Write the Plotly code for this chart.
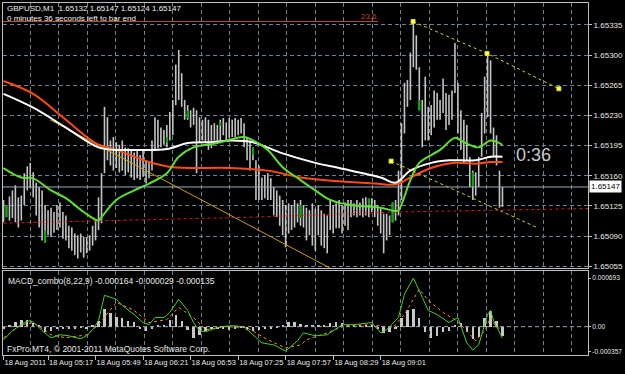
import plotly.graph_objects as go
from datetime import datetime, timedelta

# ---------------- data ----------------
# each drawn bar = 2 minutes of GBPUSD, first bar 18 Aug 2011 04:47
highs = [1.65132,1.65126,1.65136,1.65143,1.65149,1.65135,1.65137,1.65163,1.65171,1.65175,
         1.65164,1.65152,1.65147,1.65143,1.65126,1.65120,1.65123,1.65118,1.65126,1.65129,
         1.65118,1.65114,1.65102,1.65100,1.65093,1.65091,1.65093,1.65089,1.65089,1.65091,
         1.65102,1.65108,1.65135,1.65163,1.65240,1.65228,1.65201,1.65205,1.65199,1.65196,
         1.65201,1.65193,1.65192,1.65190,1.65187,1.65190,1.65184,1.65190,1.65178,1.65176,
         1.65201,1.65228,1.65225,1.65216,1.65213,1.65219,1.65234,1.65248,1.65289,1.65306,
         1.65279,1.65248,1.65242,1.65236,1.65239,1.65236,1.65228,1.65225,1.65228,1.65225,
         1.65219,1.65221,1.65219,1.65225,1.65227,1.65222,1.65227,1.65225,1.65227,1.65225,
         1.65227,1.65221,1.65205,1.65201,1.65193,1.65178,1.65172,1.65158,1.65161,1.65163,
         1.65157,1.65147,1.65143,1.65137,1.65132,1.65126,1.65128,1.65126,1.65132,1.65128,
         1.65132,1.65126,1.65123,1.65120,1.65128,1.65122,1.65126,1.65120,1.65116,1.65114,
         1.65132,1.65126,1.65128,1.65132,1.65126,1.65129,1.65132,1.65132,1.65128,1.65132,
         1.65129,1.65134,1.65135,1.65132,1.65134,1.65132,1.65126,1.65123,1.65116,1.65116,
         1.65114,1.65129,1.65132,1.65166,1.65221,1.65268,1.65271,1.65303,1.65339,1.65323,
         1.65286,1.65248,1.65275,1.65240,1.65242,1.65259,1.65256,1.65248,1.65273,1.65256,
         1.65254,1.65259,1.65314,1.65268,1.65236,1.65225,1.65219,1.65182,1.65166,1.65164,
         1.65182,1.65233,1.65275,1.65303,1.65294,1.65216,1.65207,1.65166,1.65147]
lows = [1.65106,1.65112,1.65108,1.65111,1.65106,1.65100,1.65108,1.65126,1.65143,1.65146,
        1.65135,1.65114,1.65100,1.65085,1.65082,1.65091,1.65089,1.65094,1.65097,1.65100,
        1.65087,1.65085,1.65076,1.65073,1.65068,1.65064,1.65071,1.65065,1.65070,1.65073,
        1.65079,1.65085,1.65097,1.65105,1.65163,1.65178,1.65172,1.65166,1.65169,1.65164,
        1.65166,1.65161,1.65164,1.65158,1.65155,1.65157,1.65155,1.65159,1.65151,1.65157,
        1.65166,1.65190,1.65192,1.65193,1.65196,1.65193,1.65201,1.65207,1.65242,1.65248,
        1.65240,1.65225,1.65225,1.65216,1.65219,1.65163,1.65198,1.65201,1.65198,1.65190,
        1.65192,1.65201,1.65201,1.65201,1.65207,1.65201,1.65204,1.65205,1.65205,1.65207,
        1.65209,1.65193,1.65178,1.65166,1.65178,1.65132,1.65132,1.65132,1.65134,1.65132,
        1.65132,1.65114,1.65112,1.65102,1.65091,1.65077,1.65093,1.65097,1.65100,1.65106,
        1.65102,1.65100,1.65085,1.65091,1.65079,1.65073,1.65091,1.65079,1.65076,1.65070,
        1.65097,1.65093,1.65099,1.65099,1.65093,1.65102,1.65097,1.65112,1.65114,1.65112,
        1.65114,1.65112,1.65114,1.65112,1.65118,1.65112,1.65102,1.65093,1.65070,1.65085,
        1.65091,1.65106,1.65108,1.65114,1.65132,1.65209,1.65240,1.65248,1.65286,1.65283,
        1.65236,1.65193,1.65201,1.65201,1.65207,1.65216,1.65225,1.65225,1.65233,1.65213,
        1.65219,1.65225,1.65256,1.65209,1.65190,1.65175,1.65178,1.65147,1.65132,1.65137,
        1.65147,1.65182,1.65209,1.65228,1.65209,1.65182,1.65172,1.65123,1.65124]

# green candle bodies: bar index, body top, body bottom
green_idx = [1, 14, 55, 62, 73, 84, 100, 123, 131, 140, 158]
green_top = [1.65126,1.65097,1.65205,1.65236,1.65222,1.65193,1.65126,1.65134,1.65129,1.65248,1.65164]
green_bot = [1.65112,1.65082,1.65198,1.65227,1.65218,1.65184,1.65111,1.65126,1.65106,1.65236,1.65147]

# moving averages (bar index, price)
white_idx = [0,10,21,32,38,44,55,62,70,77,84,94,105,113,127,132,137,144,150,159,164,168]
white_ma = [1.65255,1.65239,1.65216,1.65193,1.65190,1.65190,1.65191,1.65198,1.65199,1.65201,1.65199,
            1.65186,1.65175,1.65169,1.65158,1.65152,1.65166,1.65175,1.65178,1.65178,1.65182,1.65182]
red_idx = [0,10,21,31,38,49,57,77,89,100,105,125,132,137,144,152,159,164,168]
red_ma = [1.65270,1.65255,1.65225,1.65198,1.65190,1.65176,1.65170,1.65169,1.65166,1.65158,1.65156,
          1.65151,1.65150,1.65158,1.65169,1.65175,1.65174,1.65176,1.65176]
green_ma_idx = [0,6,10,16,21,27,32,33,38,44,49,55,59,64,72,81,84,89,94,100,105,110,117,127,132,133,
                137,140,147,152,155,160,164,168]
green_ma = [1.65169,1.65158,1.65157,1.65143,1.65134,1.65118,1.65108,1.65112,1.65132,1.65143,
            1.65151,1.65163,1.65182,1.65193,1.65198,1.65205,1.65201,1.65190,1.65170,1.65155,
            1.65143,1.65132,1.65126,1.65123,1.65119,1.65120,1.65155,1.65175,1.65190,1.65204,
            1.65199,1.65193,1.65201,1.65196]
# slow red dotted average
red_dot_idx = [0, 84, 133, 196.8]
red_dot = [1.65105, 1.65112, 1.65118, 1.65122]

# drawn objects
gold_line_idx = [15.66, 109.9]
gold_line = [1.65225, 1.65053]
upper_chan_idx = [137.9, 162.8, 187.0]
upper_chan = [1.65339, 1.65302, 1.65261]
lower_chan_idx = [130.5, 179.6]
lower_chan = [1.65177, 1.65100]
fib_idx = [-0.17, 126.1]
fib_level = 1.65339
current_price = 1.65147

# MACD panel
macd_idx = [0,3,7,9,11,13,16,19,22,26,28,30,32,34,38,40,44,47,49,51,54,56,59,62,64,66,68,73,77,81,
            84,87,91,95,99,101,105,109,114,118,124,127,129,133,135,138,141,143,146,150,153,154,156,
            158,160,163,164,165,168]
macd = [-0.000188,-0.000058,0.000058,0.000087,0.000029,-0.000058,-0.000159,-0.000116,-0.00013,-0.000173,
        -0.00013,-0.000043,0.000087,0.000448,0.00039,0.000303,0.000173,0.000058,0.000029,0.00013,
        0.00013,0.000202,0.00039,0.000231,0.000058,-0.000058,-0.000072,0.0,0.000014,0.0,
        -0.000116,-0.000231,-0.00026,-0.000347,-0.000202,-0.000087,-0.00013,-0.000116,0.000029,0.000029,
        0.000058,-0.000087,-0.000043,0.00013,0.000462,0.000693,0.000419,0.000231,0.000173,0.000058,
        0.00013,0.000014,-0.000231,-0.000332,-0.00026,0.000173,0.000231,0.000087,-0.000164]
sig_idx = [0,6,10,16,21,28,32,38,44,49,55,59,64,68,75,82,89,95,100,102,109,115,124,131,135,140,143,
           148,152,155,159,162,164,166,168]
signal = [-0.000159,0.000029,0.000058,-0.000116,-0.000159,-0.000116,0.000029,0.000347,0.000231,0.000058,
          0.000101,0.000274,0.00013,-0.000043,0.0,-0.000014,-0.000188,-0.000303,-0.00026,-0.000188,
          -0.000087,0.000014,0.000029,-0.000014,0.000173,0.000534,0.000375,0.000202,0.000101,-0.000014,
          -0.000202,-0.000058,0.00013,-0.000014,-0.000029]
hist = [-0.00004,0.00003,0.00007,0.0001,0.00009,0.00005,0.00002,-0.00007,-0.00006,-0.00004,
        -0.00003,-0.00004,-0.00003,-0.00002,-0.00003,0.00003,0.00008,0.00025,0.0002,0.00014,
        0.00012,0.00008,0.00006,-0.00003,-0.00006,-0.00004,0.00002,0.00003,0.0001,0.00016,
        0.00008,-0.00005,-0.00016,-0.00012,-0.00006,-0.00003,-0.00004,-0.00003,-0.00005,-0.00003,
        -0.00002,-0.00005,-0.00006,-0.00005,-0.00004,-0.00003,-0.00002,0.00003,0.00006,0.00006,
        0.00004,0.00002,0.00002,0.00003,0.00002,0.00005,0.00007,0.00005,0.00003,0.00003,
        0.00002,0.00002,0.00001,-0.00003,-0.00009,-0.00008,-0.00003,0.00013,0.00024,0.00025,
        0.00012,-0.00008,-0.00016,-0.00014,-0.00008,-0.00006,0.00003,0.00005,-0.00008,-0.00018,
        -0.00015,0.00012,0.00023,0.00008,-0.000135]

price_ticks = [1.65335, 1.65300, 1.65265, 1.65230, 1.65195, 1.65160, 1.65125, 1.65090, 1.65055]
macd_ticks = [0.000693, 0.0, -0.000357]
macd_tick_text = ["0.000693", "0.00", "-0.000357"]
time_label_idx = [0, 15, 31, 47, 63, 79, 95, 111, 127]
time_labels = ["18 Aug 2011", "18 Aug 05:17", "18 Aug 05:49", "18 Aug 06:21", "18 Aug 06:53",
               "18 Aug 07:25", "18 Aug 07:57", "18 Aug 08:29", "18 Aug 09:01"]

# ---------------- helpers ----------------
BASE = datetime(2011, 8, 18, 4, 47)
def T(i):
    return BASE + timedelta(minutes=2 * i)

W, H = 625, 374
def px(x):
    return x / W
def py(y):
    return 1 - y / H

FONT = "Liberation Sans, Arial, sans-serif"
GRID = "#6e8194"

fig = go.Figure()

# price bars
bx, by = [], []
for i, (h, l) in enumerate(zip(highs, lows)):
    bx += [T(i), T(i), None]
    by += [l, h, None]
fig.add_trace(go.Scatter(x=bx, y=by, mode="lines", line=dict(color="#c4c4c4", width=1.6),
                         hoverinfo="skip", xaxis="x", yaxis="y"))
gx, gy = [], []
for i, tp, bt in zip(green_idx, green_top, green_bot):
    gx += [T(i), T(i), None]
    gy += [bt, tp, None]
fig.add_trace(go.Scatter(x=gx, y=gy, mode="lines", line=dict(color="#00b000", width=2),
                         hoverinfo="skip", xaxis="x", yaxis="y"))

# drawn lines
fig.add_trace(go.Scatter(x=[T(i) for i in gold_line_idx], y=gold_line, mode="lines",
                         line=dict(color="#c8a000", width=1), xaxis="x", yaxis="y"))
fig.add_trace(go.Scatter(x=[T(i) for i in red_dot_idx], y=red_dot, mode="lines",
                         line=dict(color="#e01818", width=1, dash="3px,3px"), xaxis="x", yaxis="y"))
fig.add_trace(go.Scatter(x=[T(i) for i in fib_idx], y=[fib_level, fib_level], mode="lines",
                         line=dict(color="#b4501e", width=1), xaxis="x", yaxis="y"))

# moving averages
fig.add_trace(go.Scatter(x=[T(i) for i in red_idx], y=red_ma, mode="lines", line_shape="spline",
                         line=dict(color="#ff4a10", width=2), xaxis="x", yaxis="y"))
fig.add_trace(go.Scatter(x=[T(i) for i in white_idx], y=white_ma, mode="lines", line_shape="spline",
                         line=dict(color="#ffffff", width=2), xaxis="x", yaxis="y"))
fig.add_trace(go.Scatter(x=[T(i) for i in green_ma_idx], y=green_ma, mode="lines", line_shape="spline",
                         line=dict(color="#5ede30", width=2), xaxis="x", yaxis="y"))

# channel lines
fig.add_trace(go.Scatter(x=[T(i) for i in upper_chan_idx], y=upper_chan, mode="lines",
                         line=dict(color="#d8d800", width=1, dash="3px,3px"), xaxis="x", yaxis="y"))
fig.add_trace(go.Scatter(x=[T(i) for i in lower_chan_idx], y=lower_chan, mode="lines",
                         line=dict(color="#d8d800", width=1, dash="3px,3px"), xaxis="x", yaxis="y"))
fig.add_trace(go.Scatter(x=[T(i) for i in upper_chan_idx] + [T(lower_chan_idx[0])],
                         y=upper_chan + [lower_chan[0]], mode="markers",
                         marker=dict(symbol="square", size=4, color="#ffff80",
                                     line=dict(color="#e0e000", width=1)), xaxis="x", yaxis="y"))

# MACD panel
fig.add_trace(go.Bar(x=[T(i) for i in range(0, 2 * len(hist), 2)], y=hist,
                     width=95000, marker=dict(color="#c8c8c8", line=dict(width=0)),
                     xaxis="x2", yaxis="y2"))
fig.add_trace(go.Scatter(x=[T(i) for i in sig_idx], y=signal, mode="lines",
                         line=dict(color="#ff8c1a", width=1, dash="3px,3px"), xaxis="x2", yaxis="y2"))
fig.add_trace(go.Scatter(x=[T(i) for i in macd_idx], y=macd, mode="lines",
                         line=dict(color="#44d020", width=1), xaxis="x2", yaxis="y2"))

grid_times = [T(8.92 + 9.596 * k) for k in range(20)]
xrange_ = [T(-0.17), T(196.8)]
xdom = [px(3), px(588)]

common_x = dict(domain=xdom, range=xrange_, type="date", showgrid=False, zeroline=False,
                showline=True, mirror=True, linecolor="#c0c0c0", linewidth=1, automargin=False,
                minor=dict(tickmode="array", tickvals=grid_times, showgrid=True,
                           gridcolor=GRID, griddash="4px,3px", gridwidth=1, ticks=""))

fig.update_layout(
    width=W, height=H, margin=dict(l=0, r=0, t=0, b=0, autoexpand=False),
    paper_bgcolor="#000000", plot_bgcolor="#000000", showlegend=False,
    font=dict(family=FONT, size=8, color="#e0e0e0"),
    bargap=0,
    xaxis=dict(common_x, anchor="y", showticklabels=False, ticks=""),
    xaxis2=dict(common_x, anchor="y2", matches="x",
                tickmode="array", tickvals=[T(i) for i in time_label_idx], ticktext=time_labels,
                ticks="outside", ticklen=4, tickcolor="#c0c0c0", tickangle=0,
                ticklabelposition="outside right",
                tickfont=dict(family=FONT, size=7.5, color="#e8e8e8")),
    yaxis=dict(domain=[py(268), py(3)], range=[1.65053, 1.653605], side="right",
               tickmode="array", tickvals=price_ticks, ticktext=[f"{v:.5f}" for v in price_ticks],
               ticks="outside", ticklen=3, tickcolor="#c0c0c0", automargin=False,
               showgrid=True, gridcolor=GRID, griddash="4px,3px", gridwidth=1, zeroline=False,
               showline=True, mirror=True, linecolor="#c0c0c0", linewidth=1,
               tickfont=dict(family=FONT, size=8, color="#e8e8e8")),
    yaxis2=dict(domain=[py(355), py(271)], range=[-0.000404, 0.000794], side="right",
                tickmode="array", tickvals=macd_ticks, ticktext=macd_tick_text,
                ticks="outside", ticklen=2, tickcolor="#c0c0c0", automargin=False,
                showgrid=False, zeroline=False,
                showline=True, mirror=True, linecolor="#c0c0c0", linewidth=1,
                tickfont=dict(family=FONT, size=6.6, color="#e8e8e8")),
)

# reference lines
fig.add_shape(type="line", xref="x domain", yref="y", x0=0, x1=1,
              y0=current_price, y1=current_price, line=dict(color="#9aacbe", width=1))
fig.add_shape(type="line", xref="x2 domain", yref="y2", x0=0, x1=1, y0=0, y1=0,
              line=dict(color="#9aa6b2", width=1, dash="4px,3px"))

# texts
fig.add_annotation(x=px(6), y=py(3), xref="paper", yref="paper", xanchor="left", yanchor="top",
                   text="GBPUSD,M1  1.65132 1.65147 1.65124 1.65147<br>0 minutes 36 seconds left to bar end",
                   showarrow=False, align="left", borderpad=0,
                   font=dict(family=FONT, size=8, color="#f0f0f0"))
fig.add_annotation(x=T(fib_idx[1]), y=fib_level, xref="x", yref="y", xanchor="right", yanchor="bottom",
                   text="23.6", showarrow=False, borderpad=0,
                   font=dict(family=FONT, size=8, color="#c0482a"))
fig.add_annotation(x=px(514), y=py(155), xref="paper", yref="paper", xanchor="left", yanchor="middle",
                   text="0:36", showarrow=False,
                   font=dict(family=FONT, size=18, color="#c8c8c8"))
fig.add_annotation(x=px(589), y=current_price, xref="paper", yref="y", xanchor="left", yanchor="middle",
                   text="1.65147", showarrow=False, bgcolor="#ffffff", borderpad=1,
                   font=dict(family=FONT, size=8, color="#000000"))
fig.add_annotation(x=px(6), y=py(281), xref="paper", yref="paper", xanchor="left", yanchor="middle",
                   text="MACD_combo(8,22,9) -0.000164 -0.000029 -0.000135", showarrow=False,
                   font=dict(family=FONT, size=8.5, color="#e8e8e8"))
fig.add_annotation(x=px(5), y=py(349), xref="paper", yref="paper", xanchor="left", yanchor="middle",
                   text="FxPro MT4, © 2001-2011 MetaQuotes Software Corp.", showarrow=False,
                   font=dict(family=FONT, size=8.5, color="#e8e8e8"))

fig.write_html("out.html")
